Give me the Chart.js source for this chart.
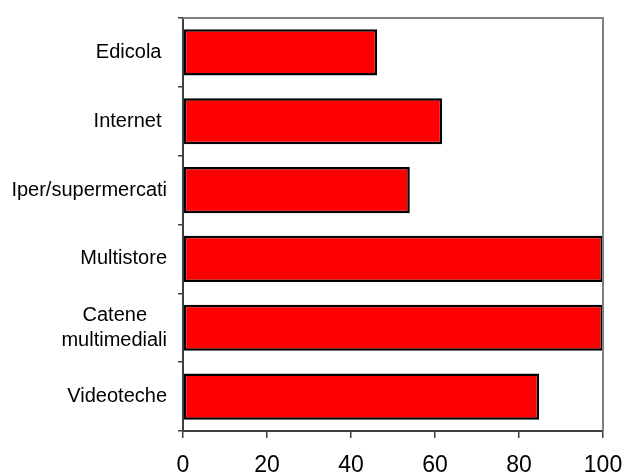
<!DOCTYPE html>
<html>
<head>
<meta charset="utf-8">
<script src="https://cdn.jsdelivr.net/npm/chart.js@4/dist/chart.umd.min.js"></script>
<style>
  html, body { margin: 0; padding: 0; background: #ffffff; }
  #wrap { width: 626px; height: 475px; }
</style>
</head>
<body>
<div id="wrap"><canvas id="c" width="626" height="475"></canvas></div>
<script>
// Sales channels (top to bottom) and their index values
const channels = ['Edicola ', 'Internet ', 'Iper/supermercati', 'Multistore', ['Catene\u2002\u2002', 'multimediali'], 'Videoteche'];
const values = [46.2, 61.7, 54.0, 100, 100, 84.8];
const xTicks = [0, 20, 40, 60, 80, 100];

const FONT = "'Liberation Sans', Arial, Helvetica, sans-serif";

// Grey frame along the top and right edges of the plot area
const framePlugin = {
  id: 'frame',
  afterDatasetsDraw(chart) {
    const { ctx, chartArea: a } = chart;
    ctx.save();
    ctx.strokeStyle = '#808080';
    ctx.lineWidth = 2;
    ctx.beginPath();
    ctx.moveTo(a.left, a.top);
    ctx.lineTo(a.right, a.top);
    ctx.lineTo(a.right, a.bottom);
    ctx.stroke();
    ctx.restore();
  }
};

new Chart(document.getElementById('c'), {
  type: 'bar',
  data: {
    labels: channels,
    datasets: [{
      data: values,
      backgroundColor: '#ff0000',
      borderColor: '#000000',
      borderWidth: 2.5,
      borderSkipped: false,
      categoryPercentage: 1,
      barPercentage: 0.67
    }]
  },
  options: {
    indexAxis: 'y',
    responsive: false,
    devicePixelRatio: 1,
    animation: false,
    layout: { padding: { top: 18, right: 23, left: 0, bottom: 0 } },
    plugins: { legend: { display: false }, tooltip: { enabled: false } },
    scales: {
      x: {
        min: 0,
        max: 100,
        afterBuildTicks(scale) { scale.ticks = xTicks.map(v => ({ value: v })); },
        afterFit(scale) { scale.height = 44; scale.paddingLeft = 0; scale.paddingRight = 0; },
        grid: { drawOnChartArea: false, drawTicks: true, tickLength: 7, color: '#404040', lineWidth: 1.5 },
        border: { display: true, color: '#404040', width: 2 },
        ticks: { color: '#000000', font: { family: FONT, size: 23 }, padding: 14, maxRotation: 0 }
      },
      y: {
        type: 'category',
        offset: true,
        afterFit(scale) { scale.width = 183; scale.paddingTop = 0; scale.paddingBottom = 0; },
        grid: { offset: true, drawOnChartArea: false, drawTicks: true, tickLength: 5, color: '#404040', lineWidth: 1.5 },
        border: { display: true, color: '#404040', width: 2 },
        ticks: { color: '#000000', font: { family: FONT, size: 20, lineHeight: 1.25 }, padding: 11, autoSkip: false }
      }
    }
  },
  plugins: [framePlugin]
});
</script>
</body>
</html>
